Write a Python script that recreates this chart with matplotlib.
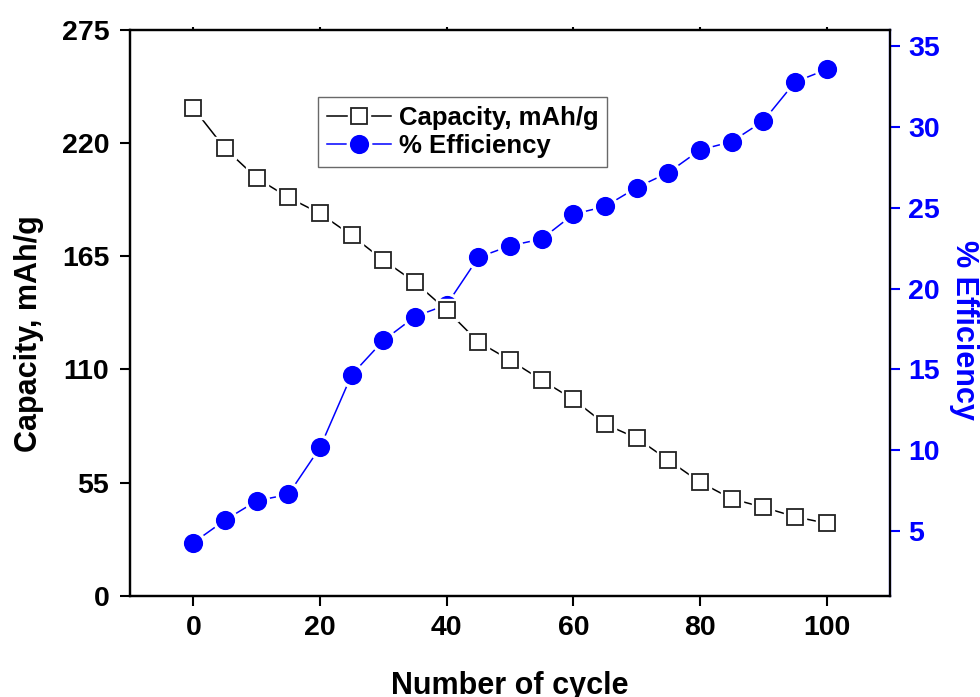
import matplotlib
matplotlib.use("Agg")
import matplotlib.pyplot as plt

plt.rcParams["font.family"] = ["Liberation Sans", "DejaVu Sans"]
plt.rcParams["font.weight"] = "bold"

cycles = [0, 5, 10, 15, 20, 25, 30, 35, 40, 45, 50,
          55, 60, 65, 70, 75, 80, 85, 90, 95, 100]
capacity = [237, 217.4, 203, 193.6, 185.8, 175.1, 163.1, 152.4, 138.8, 123.4, 114.5,
            104.8, 95.4, 83.4, 76.6, 65.9, 55.2, 47.1, 43.0, 38.4, 35.2]
efficiency = [4.28, 5.68, 6.87, 7.27, 10.17, 14.67, 16.79, 18.27, 19.0, 21.93, 22.65,
              23.07, 24.6, 25.08, 26.25, 27.18, 28.58, 29.09, 30.37, 32.78, 33.56]

cap_ticks = [0, 55, 110, 165, 220, 275]
eff_ticks = [5, 10, 15, 20, 25, 30, 35]
cycle_ticks = [0, 20, 40, 60, 80, 100]

BLUE = "#0000ff"


def draw_series(ax, x, y, marker, size, face, edge, color, z):
    # line with a white gap around each marker, like the Origin look
    line, = ax.plot(x, y, "-", color=color, lw=1.1, zorder=z)
    halo, = ax.plot(x, y, ls="none", marker=marker, ms=size + 5, mfc="white",
                    mec="white", zorder=z + 0.1)
    mark, = ax.plot(x, y, ls="none", marker=marker, ms=size, mfc=face,
                    mec=edge, mew=1.3, zorder=z + 0.2)
    return line, halo, mark


fig = plt.figure(figsize=(9.8, 6.97), dpi=100)
ax = fig.add_axes([0.1327, 0.1453, 0.7755, 0.8117])
ax2 = ax.twinx()
ax.set_zorder(ax2.get_zorder() + 1)
ax.patch.set_visible(False)

eff_h = draw_series(ax2, cycles, efficiency, "o", 12.5, BLUE, BLUE, BLUE, 2)
cap_h = draw_series(ax, cycles, capacity, "s", 11, "white", "#222222", "black", 3)

ax.set_xlim(-10, 110)
ax.set_ylim(0, 275)
ax2.set_ylim(1, 36)
ax.set_xticks(cycle_ticks)
ax.set_yticks(cap_ticks)
ax2.set_yticks(eff_ticks)

for s in ax.spines.values():
    s.set_linewidth(1.6)
for s in ax2.spines.values():
    s.set_linewidth(1.6)
ax2.spines["right"].set_color(BLUE)

ax.tick_params(axis="y", labelsize=20.5, width=1.5, length=7, pad=8)
ax.tick_params(axis="x", labelsize=20.5, width=1.5, length=7, pad=7, top=True)
for t in ax.xaxis.get_major_ticks():
    t.tick2line.set_markersize(2)
ax2.tick_params(axis="y", labelsize=20.5, width=1.5, length=7, pad=6,
                colors=BLUE)

ax.set_xlabel("Number of cycle", fontsize=22, fontweight="bold")
ax.xaxis.set_label_coords(0.5, -0.133)
ax.set_ylabel("Capacity, mAh/g", fontsize=22, fontweight="bold")
ax.yaxis.set_label_coords(-0.113, 0.463)
ax2.set_ylabel("% Efficiency", fontsize=22, fontweight="bold", color=BLUE,
               rotation=270, va="bottom")
ax2.yaxis.set_label_coords(1.077, 0.47)

leg = ax.legend([cap_h, eff_h], ["Capacity, mAh/g", "% Efficiency"],
                loc="upper left", bbox_to_anchor=(0.247, 0.882),
                fontsize=18.5, frameon=True, fancybox=False, edgecolor="#444444",
                handlelength=2.5, handletextpad=0.3, borderpad=0.35,
                labelspacing=0.15, numpoints=1, borderaxespad=0)
leg.get_frame().set_linewidth(1.0)

fig.savefig("out.png", dpi=100)
